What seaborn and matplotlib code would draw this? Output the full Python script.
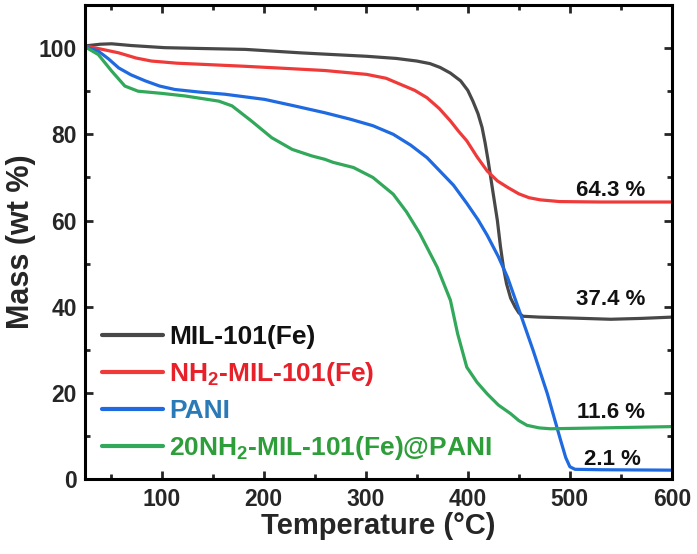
import numpy as np
import pandas as pd
import matplotlib
matplotlib.use("Agg")
import matplotlib.pyplot as plt
import seaborn as sns
from matplotlib.ticker import MultipleLocator

# ---- data ----
mil_T = [25, 40, 51, 70, 103, 140, 182, 236, 260, 301, 330, 350, 363, 373, 383, 393, 400, 405,
         410, 414, 417, 420, 425, 429, 432, 435, 438, 442, 446.5, 450, 454, 470, 500, 540, 570, 600]
mil_m = [100.5, 100.9, 101.0, 100.6, 100.1, 99.9, 99.7, 98.9, 98.6, 98.1, 97.6, 97.0, 96.4,
         95.5, 94.2, 92.4, 90.2, 87.7, 84.8, 81.6, 78.0, 73.8, 66.1, 60.0, 54.0, 49.0, 45.3,
         42.0, 39.9, 38.6, 37.8, 37.6, 37.4, 37.1, 37.3, 37.6]

nh2_T = [25, 40, 58, 75, 90, 115, 143, 180, 221, 260, 301, 320, 334, 348, 360, 372, 383, 391,
         399, 409, 419, 429, 439, 450, 460, 471, 490, 530, 600]
nh2_m = [100.5, 99.8, 98.9, 97.7, 97.0, 96.5, 96.2, 95.8, 95.3, 94.8, 93.9, 93.0, 91.6, 90.2,
         88.5, 86.0, 83.1, 80.7, 78.5, 74.8, 71.5, 69.2, 67.7, 66.2, 65.3, 64.8, 64.4, 64.3, 64.3]

pani_T = [25, 38, 48, 58, 70, 84, 98, 113, 137, 162, 201, 230, 260, 285, 307, 327, 344, 360,
          373, 386, 399, 410, 419, 430, 439, 451.5, 464, 478, 491, 496, 500, 505, 530, 600]
pani_m = [100.3, 99.3, 97.5, 95.4, 93.8, 92.4, 91.2, 90.4, 89.8, 89.3, 88.1, 86.6, 85.0, 83.5,
          82.0, 80.0, 77.5, 74.6, 71.4, 68.2, 64.0, 60.2, 56.6, 51.6, 46.8, 38.4, 29.9, 19.8,
          9.0, 5.0, 2.9, 2.3, 2.2, 2.1]

comp_T = [25, 38, 51, 64, 77, 100, 123, 156, 169, 188, 208, 228, 247, 260, 268, 288, 307, 327,
          340, 353, 370, 383, 390, 399, 409, 419, 430, 442, 450, 458, 470, 481, 530, 600]
comp_m = [100.3, 98.5, 94.7, 91.2, 90.0, 89.5, 88.9, 87.7, 86.6, 83.1, 79.2, 76.5, 75.0, 74.2,
          73.5, 72.3, 70.0, 66.1, 62.0, 57.0, 49.2, 41.5, 33.8, 26.0, 22.5, 19.8, 17.2, 15.2,
          13.6, 12.5, 11.9, 11.7, 11.9, 12.2]

labels = ["MIL-101(Fe)", r"NH$_\mathbf{2}$-MIL-101(Fe)", "PANI",
          r"20NH$_\mathbf{2}$-MIL-101(Fe)@PANI"]
line_colors = ["#484848", "#f03a3a", "#1f6ae0", "#32a85a"]
text_colors = ["#111111", "#e8202a", "#2a7ab8", "#2e9e3a"]

residues = ["64.3 %", "37.4 %", "11.6 %", "2.1 %"]
residue_x = [540, 540, 540, 542]
residue_y = [65.8, 40.3, 14.1, 3.3]

# ---- build frame ----
frames = []
for lab, T, m in zip(labels, [mil_T, nh2_T, pani_T, comp_T], [mil_m, nh2_m, pani_m, comp_m]):
    frames.append(pd.DataFrame({"T": T, "m": m, "sample": lab}))
df = pd.concat(frames, ignore_index=True)

sns.set_style("ticks")
plt.rcParams["font.family"] = ["Liberation Sans", "DejaVu Sans"]
plt.rcParams["font.weight"] = "bold"
plt.rcParams["mathtext.fontset"] = "custom"
plt.rcParams["mathtext.rm"] = "Liberation Sans:bold"
plt.rcParams["mathtext.bf"] = "Liberation Sans:bold"
plt.rcParams["mathtext.default"] = "bf"

fig = plt.figure(figsize=(6.97, 5.54), dpi=100)
ax = fig.add_axes([0.122, 0.135, 0.842, 0.856])

sns.lineplot(data=df, x="T", y="m", hue="sample", hue_order=labels,
             palette=dict(zip(labels, line_colors)), estimator=None, sort=False,
             linewidth=2.3, ax=ax)

ax.set_xlim(25, 600)
ax.set_ylim(0, 110)
ax.xaxis.set_major_locator(MultipleLocator(100))
ax.xaxis.set_minor_locator(MultipleLocator(50))
ax.yaxis.set_major_locator(MultipleLocator(20))
ax.yaxis.set_minor_locator(MultipleLocator(10))
ax.tick_params(which="both", direction="in", top=True, right=True, width=2.0,
               labeltop=False, labelright=False)
ax.tick_params(which="major", length=6, labelsize=16.5, pad=6)
ax.tick_params(which="minor", length=3.5)
for lbl in ax.get_xticklabels() + ax.get_yticklabels():
    lbl.set_fontweight("bold")
for sp in ax.spines.values():
    sp.set_visible(True)
    sp.set_linewidth(2.2)
    sp.set_color("black")

ax.set_xlabel("Temperature (\u00b0C)", fontsize=21, fontweight="bold", labelpad=1)
ax.set_ylabel("Mass (wt %)", fontsize=22, fontweight="bold", labelpad=2)

for txt, x, y in zip(residues, residue_x, residue_y):
    ax.text(x, y, txt, fontsize=16, fontweight="bold", ha="center", va="baseline",
            color="#111111")

leg = ax.legend(loc="lower left", bbox_to_anchor=(0.0, 0.0), frameon=False,
                fontsize=19, handlelength=2.3, handletextpad=0.25, labelspacing=0.42,
                borderaxespad=0.45, borderpad=0.2)
for t, c in zip(leg.get_texts(), text_colors):
    t.set_color(c)
    t.set_fontweight("bold")
for h in leg.get_lines():
    h.set_linewidth(3.0)

fig.savefig("out.png", dpi=100)
